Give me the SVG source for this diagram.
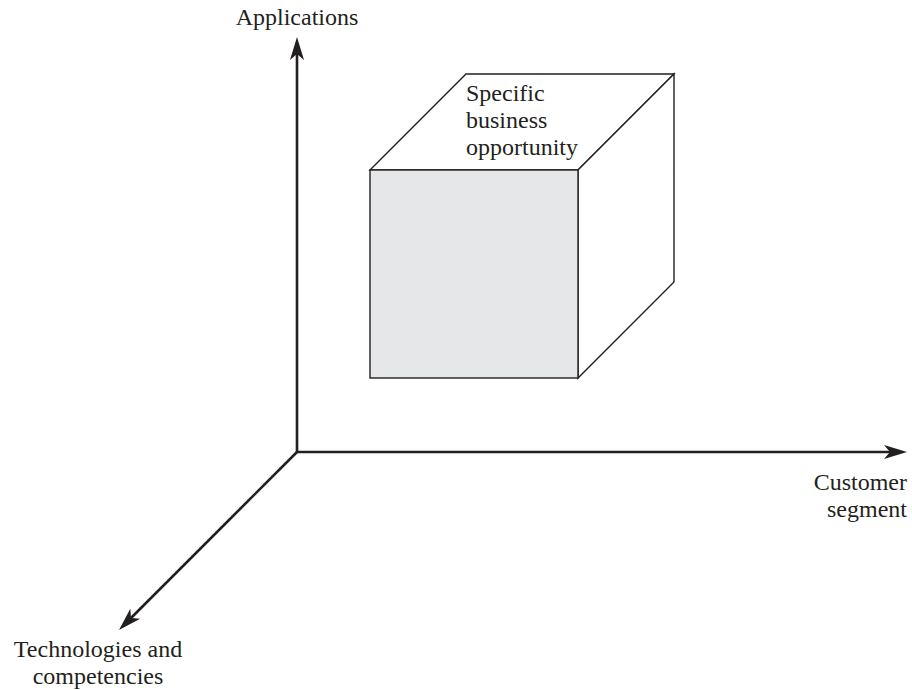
<svg xmlns="http://www.w3.org/2000/svg" width="912" height="690" viewBox="0 0 912 690">
  <style>
    .label { font-family: "Liberation Serif", "Times New Roman", serif; font-size: 24px; fill: #231f20; }
    .axis { stroke: #231f20; stroke-width: 2.6; fill: none; }
    .edge { stroke: #231f20; stroke-width: 1.4; stroke-linejoin: miter; }
  </style>
  <defs>
    <marker id="arrow" markerUnits="userSpaceOnUse" markerWidth="24" markerHeight="16" viewBox="0 -8 24 16" refX="6" refY="0" orient="auto">
      <path d="M23,0 L0,-7 L6,0 L0,7 Z" fill="#231f20"/>
    </marker>
  </defs>

  <!-- three axes meeting at the origin -->
  <g id="connectors">
    <line class="axis" x1="297" y1="453" x2="297" y2="54" marker-end="url(#arrow)"/>
    <line class="axis" x1="296" y1="452" x2="890" y2="452" marker-end="url(#arrow)"/>
    <line class="axis" x1="297" y1="452" x2="131" y2="618" marker-end="url(#arrow)"/>
  </g>

  <!-- axis labels -->
  <g id="label-applications">
    <text class="label" x="297" y="25" text-anchor="middle">Applications</text>
  </g>
  <g id="label-customer">
    <text class="label" x="907" y="490" text-anchor="end">Customer</text>
    <text class="label" x="907" y="517" text-anchor="end">segment</text>
  </g>
  <g id="label-technologies">
    <text class="label" x="98" y="657" text-anchor="middle">Technologies and</text>
    <text class="label" x="98" y="684" text-anchor="middle">competencies</text>
  </g>

  <!-- opportunity cube -->
  <g id="cube">
    <polygon class="edge" points="370,170 466,74 674,74 578,170" fill="#ffffff"/>
    <polygon class="edge" points="578,170 674,74 674,282 578,378" fill="#ffffff"/>
    <rect class="edge" x="370" y="170" width="208" height="208" fill="#e6e7e8"/>
    <text class="label" x="466" y="101">Specific</text>
    <text class="label" x="466" y="128">business</text>
    <text class="label" x="466" y="155">opportunity</text>
  </g>
</svg>
